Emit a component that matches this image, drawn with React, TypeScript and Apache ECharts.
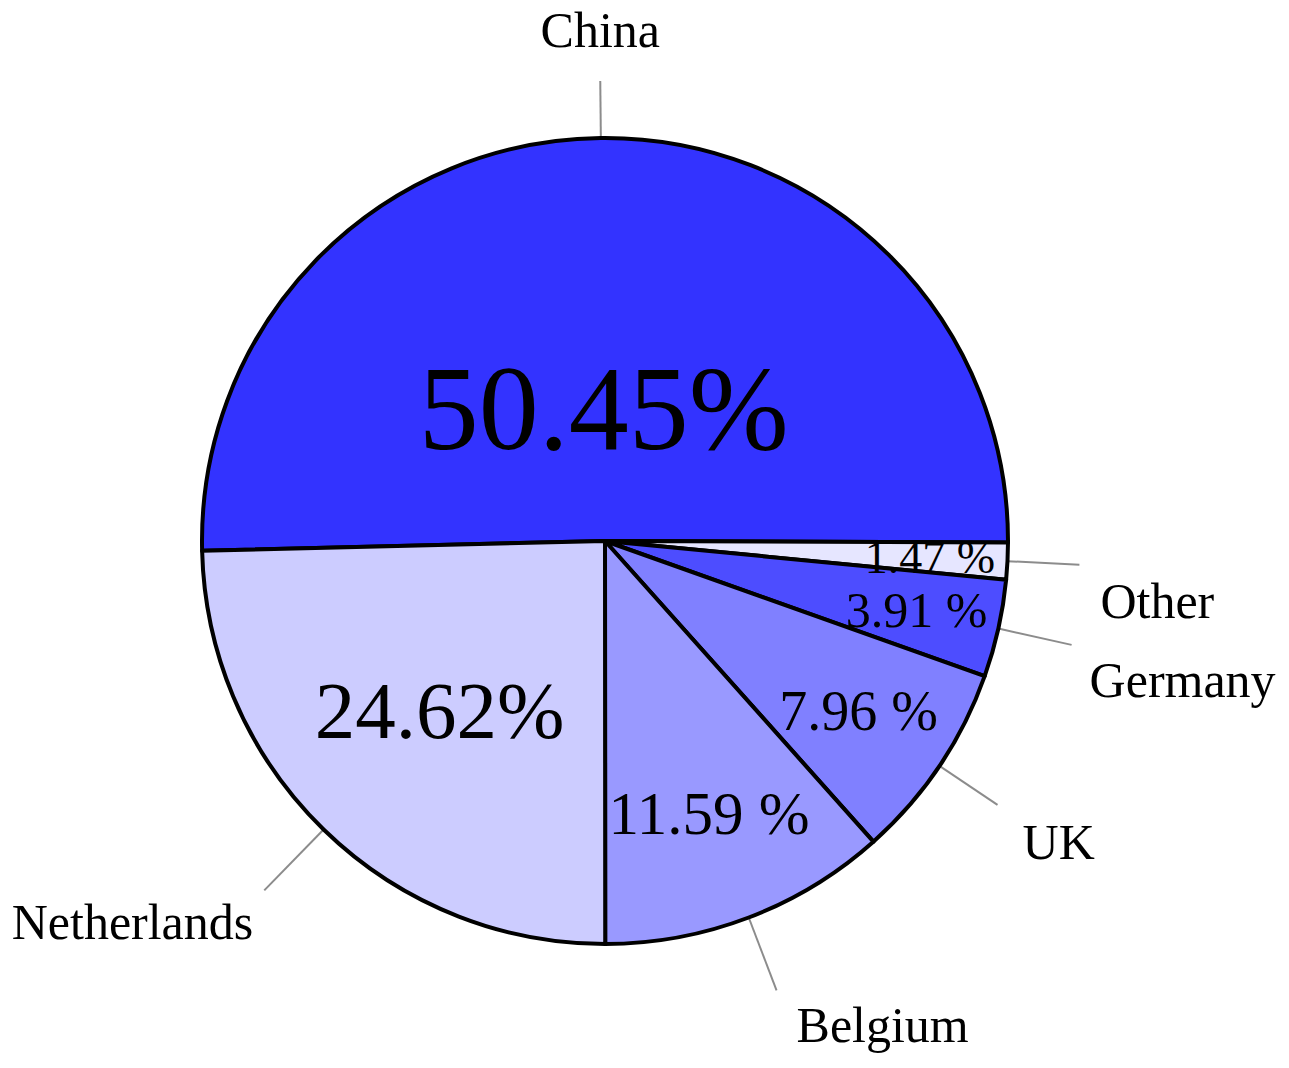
import React, { useEffect, useRef } from "react";
import * as echarts from "echarts";

// ---- data ----
const categories = ["China", "Other", "Germany", "UK", "Belgium", "Netherlands"];
const shares = [50.45, 1.47, 3.91, 7.96, 11.59, 24.62];

// ---- styles ----
const sliceColors = ["#3333FF", "#E6E6FF", "#4D4DFF", "#8080FF", "#9999FF", "#CCCCFF"];
const CX = 605;
const CY = 541;
const R = 403;
const START_ANGLE = 181.4;
const FONT = "'Liberation Serif', 'Times New Roman', serif";

// inside percentage labels: font size and radial position (fraction of radius)
const innerFont = [120, 46, 50, 56, 61, 81];
const innerRadius = [0.33, 0.807, 0.792, 0.758, 0.724, 0.588];

// outside name labels: leader length, alignment, text offset from line end
const outerLen = [57, 72, 75, 70, 78, 85];
const outerAlign = ["center", "left", "left", "left", "left", "right"];
const outerDx = [0, 21, 18, 25, 20, -11];
const outerDy = [-51, 36, 35, 37, 35, 32];

const fmtPct = (v: number) => `${v.toFixed(2)}${v >= 20 ? "" : " "}%`;

function midAngles(): number[] {
  const total = shares.reduce((a, b) => a + b, 0);
  let cum = 0;
  return shares.map((v) => {
    const mid = START_ANGLE - ((cum + v / 2) / total) * 360;
    cum += v;
    return (mid * Math.PI) / 180;
  });
}

export default function App() {
  const ref = useRef<HTMLDivElement>(null);

  useEffect(() => {
    if (!ref.current) return;
    const chart = echarts.init(ref.current, undefined, { renderer: "svg" });
    const mids = midAngles();

    const option: any = {
      animation: false,
      backgroundColor: "#ffffff",
      series: [
        {
          type: "pie",
          center: [CX, CY],
          radius: [0, R],
          startAngle: START_ANGLE,
          clockwise: true,
          silent: true,
          avoidLabelOverlap: false,
          emphasis: { disabled: true },
          itemStyle: { borderColor: "#000000", borderWidth: 4 },
          label: {
            show: true,
            position: "inside",
            color: "#000000",
            fontFamily: FONT,
            formatter: (p: any) => fmtPct(p.value),
          },
          labelLine: { show: false },
          labelLayout: (p: any) => {
            const i = p.dataIndex;
            const a = mids[i];
            return {
              x: CX + innerRadius[i] * R * Math.cos(a),
              y: CY - innerRadius[i] * R * Math.sin(a),
            };
          },
          data: categories.map((name, i) => ({
            name,
            value: shares[i],
            itemStyle: { color: sliceColors[i] },
            label: { fontSize: innerFont[i] },
          })),
        },
        {
          type: "pie",
          center: [CX, CY],
          radius: [0, R],
          startAngle: START_ANGLE,
          clockwise: true,
          silent: true,
          avoidLabelOverlap: false,
          emphasis: { disabled: true },
          itemStyle: { color: "rgba(0,0,0,0)", borderWidth: 0 },
          label: {
            show: true,
            position: "outside",
            color: "#000000",
            fontFamily: FONT,
            fontSize: 50,
            distanceToLabelLine: 0,
            formatter: (p: any) => p.name,
          },
          labelLine: {
            show: true,
            length2: 0,
            minTurnAngle: 0,
            maxSurfaceAngle: 0,
            lineStyle: { color: "#8c8c8c", width: 2 },
          },
          labelLayout: (p: any) => {
            const i = p.dataIndex;
            return {
              align: outerAlign[i],
              verticalAlign: "middle",
              dx: outerDx[i],
              dy: outerDy[i],
            };
          },
          data: categories.map((name, i) => ({
            name,
            value: shares[i],
            labelLine: { length: outerLen[i], length2: 0 },
          })),
        },
      ],
    };

    chart.setOption(option);
    return () => chart.dispose();
  }, []);

  return (
    <div
      ref={ref}
      style={{ position: "absolute", left: 0, top: 0, width: 1289, height: 1068 }}
    />
  );
}
